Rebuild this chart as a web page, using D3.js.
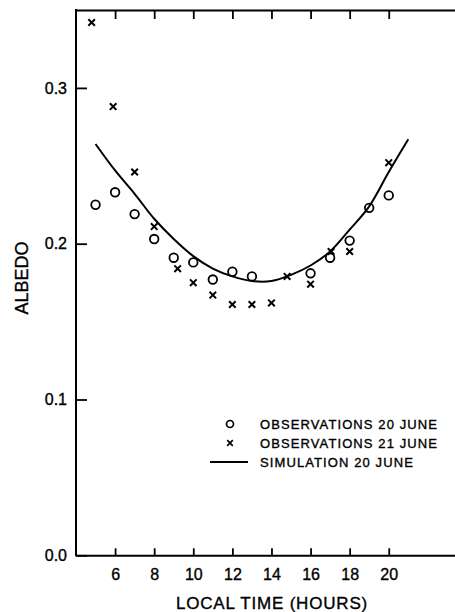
<!DOCTYPE html>
<html>
<head>
<meta charset="utf-8">
<script src="https://cdn.jsdelivr.net/npm/d3@7"></script>
<style>
  body { margin: 0; background: #fff; }
  svg { font-family: "Liberation Sans", Arial, sans-serif; }
  svg text { stroke: #000; stroke-width: 0.35px; }
</style>
</head>
<body>
<div id="chart"></div>
<script>
// Observations 20 June (circles)
var obs20Hours  = [5, 6, 7, 8, 9, 10, 11, 12, 13, 16, 17, 18, 19, 20];
var obs20Albedo = [0.225, 0.233, 0.219, 0.203, 0.191, 0.188, 0.177, 0.182, 0.179, 0.181, 0.191, 0.202, 0.223, 0.231];

// Observations 21 June (crosses)
var obs21Hours  = [4.8, 5.9, 7, 8, 9.2, 10, 11, 12, 13, 14, 14.8, 16, 17.05, 18, 20];
var obs21Albedo = [0.342, 0.288, 0.246, 0.211, 0.184, 0.175, 0.167, 0.161, 0.161, 0.162, 0.179, 0.174, 0.195, 0.195, 0.252];

// Simulation 20 June (line)
var simHours  = [5, 6, 7, 8, 9, 10, 11, 12, 13, 14, 15, 16, 17, 18, 19, 20, 21];
var simAlbedo = [0.264, 0.247, 0.232, 0.216, 0.203, 0.192, 0.184, 0.179, 0.176, 0.176, 0.180, 0.186, 0.195, 0.209, 0.224, 0.246, 0.267];

var xTicks = [6, 8, 10, 12, 14, 16, 18, 20];
var yTicks = [0, 0.1, 0.2, 0.3];

var legendLabels = ["OBSERVATIONS 20 JUNE", "OBSERVATIONS 21 JUNE", "SIMULATION 20 JUNE"];

// Layout
var W = 455, H = 612;
var plotLeft = 76, plotRight = 455, plotTop = 10, plotBottom = 555.3;

var svg = d3.select("#chart").append("svg")
    .attr("width", W)
    .attr("height", H);

var x = d3.scaleLinear().domain([4, 23.39]).range([plotLeft, plotRight]);
var y = d3.scaleLinear().domain([0, 0.35]).range([plotBottom, plotTop]);

// Left axis
var gy = svg.append("g")
    .attr("transform", "translate(" + plotLeft + ",0)")
    .call(d3.axisLeft(y).tickValues(yTicks).tickFormat(d3.format(".1f"))
          .tickSizeInner(-11).tickSizeOuter(0).tickPadding(9));
gy.select(".domain").attr("stroke-width", 2)
    .attr("d", "M0," + (plotBottom + 1) + "V" + (plotTop - 1));

// Bottom axis
var gx = svg.append("g")
    .attr("transform", "translate(0," + plotBottom + ")")
    .call(d3.axisBottom(x).tickValues(xTicks)
          .tickSizeInner(-7).tickSizeOuter(0).tickPadding(13));
gx.select(".domain").attr("stroke-width", 2);

// Top axis (ticks only)
var gt = svg.append("g")
    .attr("transform", "translate(0," + plotTop + ")")
    .call(d3.axisTop(x).tickValues(xTicks).tickFormat("")
          .tickSizeInner(-9).tickSizeOuter(0));
gt.select(".domain").attr("stroke-width", 2);

svg.selectAll(".tick line").attr("stroke-width", 1.8);
svg.selectAll(".tick text")
    .attr("fill", "#000")
    .style("font-size", "16px");

// Axis titles
svg.append("text")
    .attr("transform", "translate(28,278) rotate(-90)")
    .style("text-anchor", "middle")
    .style("font-size", "18px")
    .text("ALBEDO");

svg.append("text")
    .attr("x", 272)
    .attr("y", 609)
    .style("text-anchor", "middle")
    .style("font-size", "17px")
    .style("letter-spacing", "0.8px")
    .text("LOCAL TIME (HOURS)");

// Simulation curve
var line = d3.line()
    .x(function(d, i) { return x(simHours[i]); })
    .y(function(d) { return y(d); })
    .curve(d3.curveCatmullRom);

svg.append("path")
    .datum(simAlbedo)
    .attr("fill", "none")
    .attr("stroke", "#000")
    .attr("stroke-width", 2)
    .attr("d", line);

// Circles (20 June)
svg.selectAll(".obs20")
    .data(obs20Albedo)
  .enter().append("circle")
    .attr("class", "obs20")
    .attr("cx", function(d, i) { return x(obs20Hours[i]); })
    .attr("cy", function(d) { return y(d); })
    .attr("r", 4.3)
    .attr("fill", "none")
    .attr("stroke", "#000")
    .attr("stroke-width", 1.8);

// Crosses (21 June)
var cross = d3.symbol().type(d3.symbolX).size(30);
svg.selectAll(".obs21")
    .data(obs21Albedo)
  .enter().append("path")
    .attr("class", "obs21")
    .attr("transform", function(d, i) {
      return "translate(" + x(obs21Hours[i]) + "," + y(d) + ")";
    })
    .attr("d", cross)
    .attr("fill", "none")
    .attr("stroke", "#000")
    .attr("stroke-width", 2);

// Legend
var legendY = [424, 443, 462];
var legend = svg.append("g");

legend.append("circle")
    .attr("cx", 230).attr("cy", legendY[0])
    .attr("r", 3.5)
    .attr("fill", "none").attr("stroke", "#000").attr("stroke-width", 1.7);

legend.append("path")
    .attr("transform", "translate(230," + legendY[1] + ")")
    .attr("d", d3.symbol().type(d3.symbolX).size(22))
    .attr("fill", "none").attr("stroke", "#000").attr("stroke-width", 1.7);

legend.append("line")
    .attr("x1", 210).attr("x2", 248)
    .attr("y1", legendY[2]).attr("y2", legendY[2])
    .attr("stroke", "#000").attr("stroke-width", 2);

legend.selectAll(".ltext")
    .data(legendLabels)
  .enter().append("text")
    .attr("class", "ltext")
    .attr("x", 260)
    .attr("y", function(d, i) { return legendY[i] + 4.5; })
    .style("font-size", "13px")
    .style("letter-spacing", "1.1px")
    .text(function(d) { return d; });
</script>
</body>
</html>
